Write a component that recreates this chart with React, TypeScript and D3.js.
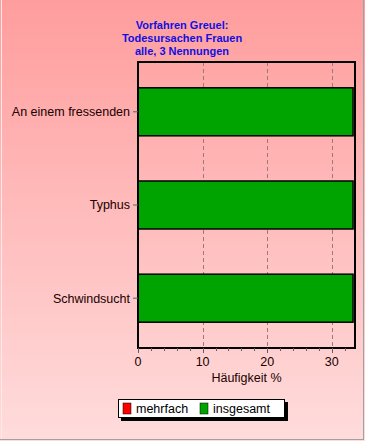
import React from 'react';
import * as d3 from 'd3';

const titleLines = ['Vorfahren Greuel:', 'Todesursachen Frauen', 'alle, 3 Nennungen'];
const categories = ['An einem fressenden', 'Typhus', 'Schwindsucht'];
const mehrfach = [0, 0, 0];
const insgesamt = [33.3, 33.3, 33.3];
const xTicks = [0, 10, 20, 30];
const xLabel = 'Häufigkeit %';
const legendNames = ['mehrfach', 'insgesamt'];

const W = 365,
  H = 441;
const plot = { left: 138, right: 355, top: 62, bottom: 348 };
const font = '"Liberation Sans", Arial, sans-serif';

export default function App() {
  const x = d3.scaleLinear().domain([0, 33.6]).range([plot.left, plot.right]);
  const y = d3
    .scaleBand()
    .domain(categories)
    .range([plot.top, plot.bottom])
    .paddingInner(0.485)
    .paddingOuter(0.277);
  const minor = d3.range(0, 33.6, 2);
  const colors = { mehrfach: '#ff0000', insgesamt: '#00a400' };

  return (
    <svg width={W} height={H} style={{ position: 'absolute', left: 0, top: 0 }}>
      <defs>
        <linearGradient id="bg" x1="0" y1="0" x2="0" y2="1">
          <stop offset="0" stopColor="#ff9d9d" />
          <stop offset="1" stopColor="#ffdcdc" />
        </linearGradient>
      </defs>
      <rect x={0} y={0} width={W} height={H} fill="url(#bg)" />
      <line x1={363.5} y1={0} x2={363.5} y2={439} stroke="#a0a0a0" strokeWidth={1} />
      <line x1={0} y1={439.5} x2={364} y2={439.5} stroke="#a0a0a0" strokeWidth={1} />
      <line x1={1.5} y1={0} x2={1.5} y2={439} stroke="#ffe8e8" strokeWidth={1} />

      {/* title */}
      <g fill="#1010e0" fontFamily={font} fontWeight="bold" fontSize={11} textAnchor="middle">
        {titleLines.map((t, i) => (
          <text key={i} x={182} y={29 + i * 13}>
            {t}
          </text>
        ))}
      </g>

      {/* grid */}
      {xTicks
        .filter(d => d > 0)
        .map(d => (
          <line
            key={d}
            x1={Math.round(x(d)) + 0.5}
            x2={Math.round(x(d)) + 0.5}
            y1={plot.top}
            y2={plot.bottom}
            stroke="#a07878"
            strokeDasharray="4,3"
          />
        ))}

      {/* bars */}
      {categories.map((c, i) => {
        const y0 = y(c)!;
        return (
          <g key={c}>
            {insgesamt[i] > 0 && (
              <rect
                x={x(0)}
                y={y0}
                width={x(insgesamt[i]) - x(0)}
                height={y.bandwidth()}
                fill={colors.insgesamt}
                stroke="#000"
                strokeWidth={1.5}
              />
            )}
            {mehrfach[i] > 0 && (
              <rect
                x={x(0)}
                y={y0}
                width={x(mehrfach[i]) - x(0)}
                height={y.bandwidth()}
                fill={colors.mehrfach}
                stroke="#000"
                strokeWidth={1.5}
              />
            )}
          </g>
        );
      })}

      {/* frame */}
      <rect
        x={plot.left}
        y={plot.top}
        width={plot.right - plot.left}
        height={plot.bottom - plot.top}
        fill="none"
        stroke="#000"
        strokeWidth={2}
      />

      {/* y axis labels */}
      {categories.map(c => {
        const cy = y(c)! + y.bandwidth() / 2;
        return (
          <g key={c}>
            <line x1={plot.left - 5} x2={plot.left} y1={cy} y2={cy} stroke="#606060" />
            <text
              x={plot.left - 8}
              y={cy}
              dy="0.35em"
              textAnchor="end"
              fontFamily={font}
              fontSize={12.5}
              fill="#200000"
            >
              {c}
            </text>
          </g>
        );
      })}

      {/* x axis */}
      {minor.map(d => (
        <line
          key={'m' + d}
          x1={Math.round(x(d)) + 0.5}
          x2={Math.round(x(d)) + 0.5}
          y1={plot.bottom}
          y2={plot.bottom + (d % 10 === 0 ? 5 : 3)}
          stroke="#606060"
        />
      ))}
      {xTicks.map(d => (
        <text
          key={d}
          x={x(d)}
          y={plot.bottom + 18}
          textAnchor="middle"
          fontFamily={font}
          fontSize={12.5}
          fill="#200000"
        >
          {d}
        </text>
      ))}
      <text
        x={(plot.left + plot.right) / 2}
        y={plot.bottom + 34}
        textAnchor="middle"
        fontFamily={font}
        fontSize={12.5}
        fill="#200000"
      >
        {xLabel}
      </text>

      {/* legend */}
      <g>
        <rect x={121} y={402} width={167} height={19} fill="#000" />
        <rect x={118.5} y={399.5} width={166} height={18} fill="#fff" stroke="#000" />
        {legendNames.map((n, i) => {
          const lx = 123 + i * 77;
          return (
            <g key={n}>
              <rect
                x={lx}
                y={403}
                width={8}
                height={11}
                fill={n === 'mehrfach' ? colors.mehrfach : colors.insgesamt}
                stroke="#000"
                strokeWidth={0.5}
              />
              <text x={lx + 13} y={413} fontFamily={font} fontSize={12.5} fill="#000">
                {n}
              </text>
            </g>
          );
        })}
      </g>
    </svg>
  );
}
